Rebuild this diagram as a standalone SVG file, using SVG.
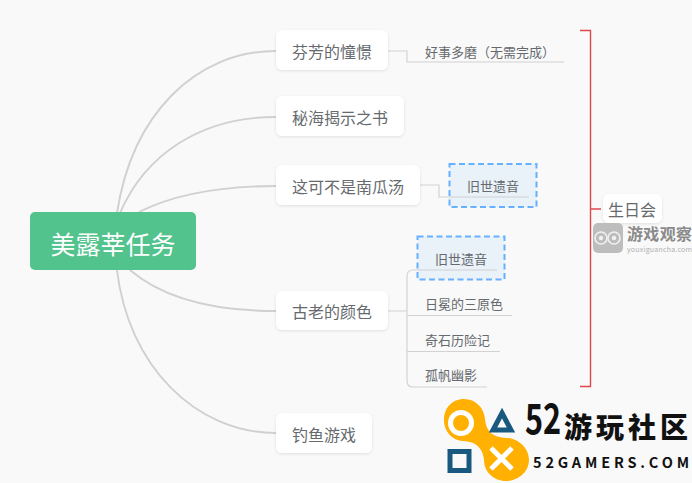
<svg xmlns="http://www.w3.org/2000/svg" width="692" height="483" viewBox="0 0 692 483">
<defs>
<filter id="sh" x="-10%" y="-20%" width="120%" height="150%"><feDropShadow dx="0" dy="1" stdDeviation="1.5" flood-color="#000" flood-opacity="0.1"/></filter>
</defs>
<style>
text{font-family:"Noto Sans CJK SC","Noto Sans",sans-serif}
.n{fill:#fff;filter:url(#sh)}
.t{font-size:16px;fill:#666a6e}
.s{font-size:13px;fill:#666a6e}
.c{fill:none;stroke:#d0d0d0;stroke-width:1.9}
.l{fill:none;stroke:#d2d2d2;stroke-width:1.2}
.d{fill:#e9f1f9;stroke:#66b1ff;stroke-width:2;stroke-dasharray:6 3.5}
.b{fill:none;stroke:#e0474c;stroke-width:1.4}
</style>
<rect width="692" height="483" fill="#f9f9f9"/>
<g id="connectors">
<path class="c" d="M117 213C132 115 195 51 276 51"/>
<path class="c" d="M120 213C145 155 200 117 276 117"/>
<path class="c" d="M139 212C175 194 225 186 276 186"/>
<path class="c" d="M130 270C165 300 215 311 276 311"/>
<path class="c" d="M117 270C128 365 195 433 276 433"/>
<path class="l" d="M388 51H407V62H564"/>
<path class="l" d="M420 185H439V197H529"/>
<path class="l" d="M388 311H407V276Q407 270 413 270H497M407 311V381Q407 387 413 387H487M407 315.500H512M407 351.500H500"/>
<path class="b" d="M580 30.500H590.500V386.500H580M590.500 209H601"/>
</g>
<g id="root"><rect x="30" y="212" width="166" height="58" rx="5" fill="#52c38c"/><text x="113" y="254" font-size="25" fill="#fff" text-anchor="middle">美露莘任务</text></g>
<g id="n1"><rect class="n" x="276" y="30" width="112" height="40" rx="6"/><text class="t" x="292" y="58">芬芳的憧憬</text></g>
<g id="n2"><rect class="n" x="276" y="96" width="128" height="40" rx="6"/><text class="t" x="292" y="124">秘海揭示之书</text></g>
<g id="n3"><rect class="n" x="276" y="165" width="144" height="40" rx="6"/><text class="t" x="292" y="193">这可不是南瓜汤</text></g>
<g id="n4"><rect class="n" x="276" y="291" width="112" height="39" rx="6"/><text class="t" x="292" y="318">古老的颜色</text></g>
<g id="n5"><rect class="n" x="276" y="413" width="96" height="40" rx="6"/><text class="t" x="292" y="441">钓鱼游戏</text></g>
<g id="n6"><rect class="n" x="603" y="194" width="59" height="29" rx="6"/><text class="t" x="608" y="216">生日会</text></g>
<g id="l1"><text class="s" x="425" y="57">好事多磨（无需完成）</text></g>
<g id="d1"><rect class="d" x="449.500" y="164" width="87" height="43"/><path class="l" d="M449.500 197H529"/><text class="s" x="467" y="191">旧世遗音</text></g>
<g id="d2"><rect class="d" x="417.500" y="236.500" width="87" height="43"/><path class="l" d="M417.500 270H497"/><text class="s" x="435" y="264">旧世遗音</text></g>
<g id="l2"><text class="s" x="425" y="309">日冕的三原色</text></g>
<g id="l3"><text class="s" x="425" y="345">奇石历险记</text></g>
<g id="l4"><text class="s" x="425" y="380">孤帆幽影</text></g>
<g id="wm1">
<rect x="593" y="223" width="30" height="30" rx="5" fill="#bdbdbd"/>
<circle cx="601" cy="238" r="6" fill="#bdbdbd" stroke="#f1f1f1" stroke-width="1.6"/><circle cx="614" cy="238" r="6" fill="#bdbdbd" stroke="#f1f1f1" stroke-width="1.6"/>
<circle cx="601" cy="238" r="2.200" fill="#f1f1f1"/><circle cx="614" cy="238" r="2.200" fill="#f1f1f1"/>
<text x="627" y="240" font-size="16" font-weight="700" fill="#8a8a8a" textLength="65">游戏观察</text>
<text x="627" y="252" font-size="7" fill="#b0b0b0" font-family="Liberation Sans" textLength="65">youxiguancha.com</text>
</g>
<g id="wm2">
<path d="M464 399C476 399 484 408 485 419C486 430 491 437 506 438C518 438 529 448 529 460C529 472 518 481 506 481C494 481 484 472 484 460C483 449 477 442 464 441C452 441 444 431 444 420C444 408 452 399 464 399Z" fill="#ffb000"/>
<circle cx="461" cy="423" r="10.500" fill="#ffb000" stroke="#fff" stroke-width="5"/>
<path d="M491 448L512 469M512 448L491 469" stroke="#fff" stroke-width="5"/>
<path d="M502 413L511 430H493Z" fill="none" stroke="#19587f" stroke-width="5"/>
<rect x="450" y="451.500" width="19" height="19" fill="none" stroke="#19587f" stroke-width="5"/>
<text transform="translate(525 434) scale(.73 1)" font-size="42" font-weight="700" fill="#111" font-family="Liberation Sans">52</text>
<text x="564" y="438" font-size="28" font-weight="900" fill="#111" textLength="124">游玩社区</text>
<text x="533" y="468" font-size="14.500" font-weight="700" fill="#111" font-family="Liberation Sans" textLength="156">52GAMERS.COM</text>
</g>
</svg>
